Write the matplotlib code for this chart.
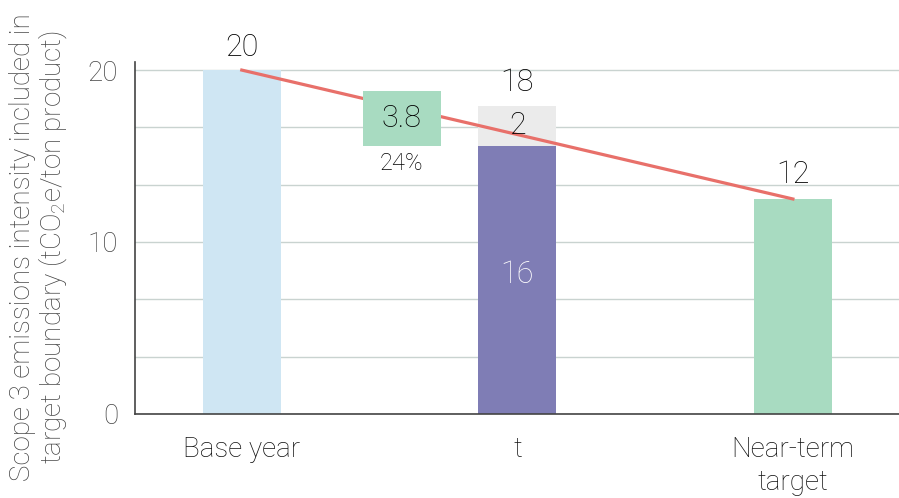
import matplotlib
matplotlib.use("Agg")
import matplotlib.pyplot as plt
from matplotlib import font_manager

categories = ["Base year", "t", "Near-term\ntarget"]
base_value = 20.0
t_achieved = 15.6
t_remaining = 2.3
target_value = 12.5
reduction_low = 15.6
reduction_high = 18.8
label_base = "20"
label_t_total = "18"
label_t_remaining = "2"
label_t_achieved = "16"
label_target = "12"
label_reduction = "3.8"
label_reduction_pct = "24%"
yticks = [0, 10, 20]
ygrid = [0, 10/3, 20/3, 10, 40/3, 50/3, 20]

fams = sorted(set(f.name for f in font_manager.fontManager.ttflist))
family = "Roboto" if "Roboto" in fams else "DejaVu Sans"
plt.rcParams['font.family'] = [family, 'DejaVu Sans']
plt.rcParams['mathtext.fontset'] = 'custom'
plt.rcParams['mathtext.rm'] = family + ':weight=light'
plt.rcParams['mathtext.it'] = family + ':weight=light'
W = 'light'

c_base = "#cfe6f3"
c_purple = "#7f7db5"
c_grey = "#ebebeb"
c_green = "#a8dbc1"
c_red = "#e8706a"
c_grid = "#c9d3d0"
c_text = "#000000"

fig = plt.figure(figsize=(8.99, 4.98), dpi=100)
ax = fig.add_axes([0.150, 0.169, 0.850, 0.7065])

x = [0, 1, 2]
bw = 0.283
for g in ygrid:
    ax.axhline(g, color=c_grid, lw=1, zorder=0)

ax.bar(x[0], base_value, width=bw, color=c_base, zorder=2)
ax.bar(x[1], t_achieved, width=bw, color=c_purple, zorder=2)
ax.bar(x[1], t_remaining, bottom=t_achieved, width=bw, color=c_grey, zorder=2)
ax.bar(x[2], target_value, width=bw, color=c_green, zorder=2)
ax.bar(0.58, reduction_high - reduction_low, bottom=reduction_low, width=bw, color=c_green, zorder=4)

ax.plot([x[0], x[2]], [base_value, target_value], color=c_red, lw=2.3, zorder=3)

fs = 22
ax.text(x[0], base_value + 0.45, label_base, ha='center', va='bottom', fontsize=fs, color=c_text, fontweight=W)
ax.text(x[1], t_achieved + t_remaining + 0.55, label_t_total, ha='center', va='bottom', fontsize=fs, color=c_text, fontweight=W)
ax.text(x[1], t_achieved + t_remaining / 2, label_t_remaining, ha='center', va='center', fontsize=fs, color=c_text, fontweight=W, zorder=5)
ax.text(x[1], 8.1, label_t_achieved, ha='center', va='center', fontsize=fs, color='white', fontweight=W)
ax.text(x[2], target_value + 0.6, label_target, ha='center', va='bottom', fontsize=fs, color=c_text, fontweight=W)
ax.text(0.58, (reduction_low + reduction_high) / 2, label_reduction, ha='center', va='center', fontsize=fs, color=c_text, fontweight=W, zorder=5)
ax.text(0.58, reduction_low - 0.35, label_reduction_pct, ha='center', va='top', fontsize=17, color=c_text, fontweight=W)

ax.set_xlim(-0.388, 2.385)
ax.set_ylim(0, 20.47)
ax.set_xticks(x)
ax.set_xticklabels(categories, fontsize=20, color="#111111", fontweight=W, linespacing=1.3)
ax.set_yticks(yticks)
ax.set_yticklabels([str(v) for v in yticks], fontsize=20, color="#444444", fontweight=W)
ax.tick_params(axis='both', length=0)
ax.tick_params(axis='x', pad=16)
ax.tick_params(axis='y', pad=12)
for s in ['top', 'right']:
    ax.spines[s].set_visible(False)
for s in ['left', 'bottom']:
    ax.spines[s].set_color('#444444')
    ax.spines[s].set_linewidth(1.2)
ax.set_ylabel("Scope 3 emissions intensity included in\ntarget boundary (tCO$_2$e/ton product)",
              fontsize=20, color="#444444", fontweight=W, linespacing=1.0)
ax.yaxis.set_label_coords(-0.086, 0.474)

fig.savefig("out.png", dpi=100)
